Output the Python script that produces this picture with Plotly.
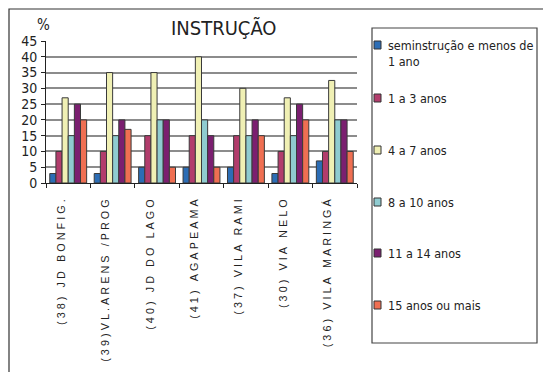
import plotly.graph_objects as go

# Bairros (eixo X) e faixas de instrução (séries)
bairros = ["(38) JD BONFIG.", "(39)VL.ARENS /PROG", "(40) JD DO LAGO", "(41) AGAPEAMA",
           "(37) VILA RAMI", "(30) VIA NELO", "(36) VILA MARINGÁ"]
series_names = ["seminstrução e menos de 1 ano", "1 a 3 anos", "4 a 7 anos",
                "8 a 10 anos", "11 a 14 anos", "15 anos ou mais"]
series_lines = [["seminstrução e menos de", "1 ano"], ["1 a 3 anos"], ["4 a 7 anos"],
                ["8 a 10 anos"], ["11 a 14 anos"], ["15 anos ou mais"]]

sem_instrucao = [3, 3, 5, 5, 5, 3, 7]
anos_1_3 = [10, 10, 15, 15, 15, 10, 10]
anos_4_7 = [27, 35, 35, 40, 30, 27, 32.5]
anos_8_10 = [15, 15, 20, 20, 15, 15, 20]
anos_11_14 = [25, 20, 20, 15, 20, 25, 20]
anos_15_mais = [20, 17, 5, 5, 15, 20, 10]
values = [sem_instrucao, anos_1_3, anos_4_7, anos_8_10, anos_11_14, anos_15_mais]

y_ticks = [0, 5, 10, 15, 20, 25, 30, 35, 40, 45]

colors = ["#2C6DB5", "#B23C6C", "#F0F0B4", "#8FCBD0", "#7B1F70", "#EF6F52"]

W, H = 543, 372
NARROW = "Liberation Sans Narrow, Arial Narrow, DejaVu Sans Condensed, sans-serif"

def px(x):
    return x / W

def py(y):
    return 1 - y / H

def narrow(size):
    return dict(family=NARROW, size=size, color="#222")

fig = go.Figure()
for name, vals, col in zip(series_names, values, colors):
    fig.add_trace(go.Bar(x=bairros, y=vals, name=name, marker_color=col,
                         marker_line=dict(color="#3a3a3a", width=1), showlegend=False))

# rótulos espaçados para o eixo X
spaced = ["\u2009\u200a".join(list(b)) for b in bairros]

fig.update_layout(
    width=W, height=H, margin=dict(l=0, r=0, t=0, b=0),
    paper_bgcolor="white", plot_bgcolor="white",
    barmode="group", bargap=0.17, bargroupgap=0,
    xaxis=dict(domain=[px(46), px(357)], tickmode="array", tickvals=bairros, ticktext=spaced,
               tickangle=-90, tickfont=dict(family="Liberation Sans, Arial, sans-serif", size=10.8, color="#222"),
               showline=True, linecolor="#222", linewidth=1, ticks="outside", ticklen=4,
               tickcolor="#222", tickson="boundaries", showgrid=False, ticklabelshift=-7,
               ticklabelstandoff=11, automargin=False),
    yaxis=dict(domain=[py(183), py(41)], range=[0, 45], tickvals=y_ticks,
               tickfont=narrow(14), automargin=False,
               showline=True, linecolor="#222", linewidth=1, ticks="outside", ticklen=4,
               tickcolor="#222", showgrid=True, gridcolor="#8c8c8c", gridwidth=1.6,
               zeroline=False, ticklabelstandoff=1),
)

shapes = [
    # moldura externa
    dict(type="rect", xref="paper", yref="paper", x0=px(9), x1=px(560), y0=py(400), y1=py(9),
         line=dict(color="#333", width=1.2)),
    # caixa da legenda
    dict(type="rect", xref="paper", yref="paper", x0=px(372), x1=px(537), y0=py(343), y1=py(28),
         line=dict(color="#444", width=1.2)),
]
annotations = [
    dict(text="INSTRUÇÃO", xref="paper", yref="paper", x=px(224), y=py(28), showarrow=False,
         xanchor="center", yanchor="middle", font=narrow(20)),
    dict(text="%", xref="paper", yref="paper", x=px(43), y=py(25), showarrow=False,
         xanchor="center", yanchor="middle", font=narrow(15)),
]

item_y = [45, 98, 150, 202, 253, 305]
for lines, col, yc in zip(series_lines, colors, item_y):
    shapes.append(dict(type="rect", xref="paper", yref="paper", x0=px(374), x1=px(381),
                       y0=py(yc + 4), y1=py(yc - 4), fillcolor=col,
                       line=dict(color="#333", width=1)))
    annotations.append(dict(text="<br>".join(lines), xref="paper", yref="paper", x=px(386),
                            y=py(yc - 9), xanchor="left", yanchor="top", align="left",
                            showarrow=False, font=narrow(12.5)))

fig.update_layout(shapes=shapes, annotations=annotations)
fig.write_html("out.html")
